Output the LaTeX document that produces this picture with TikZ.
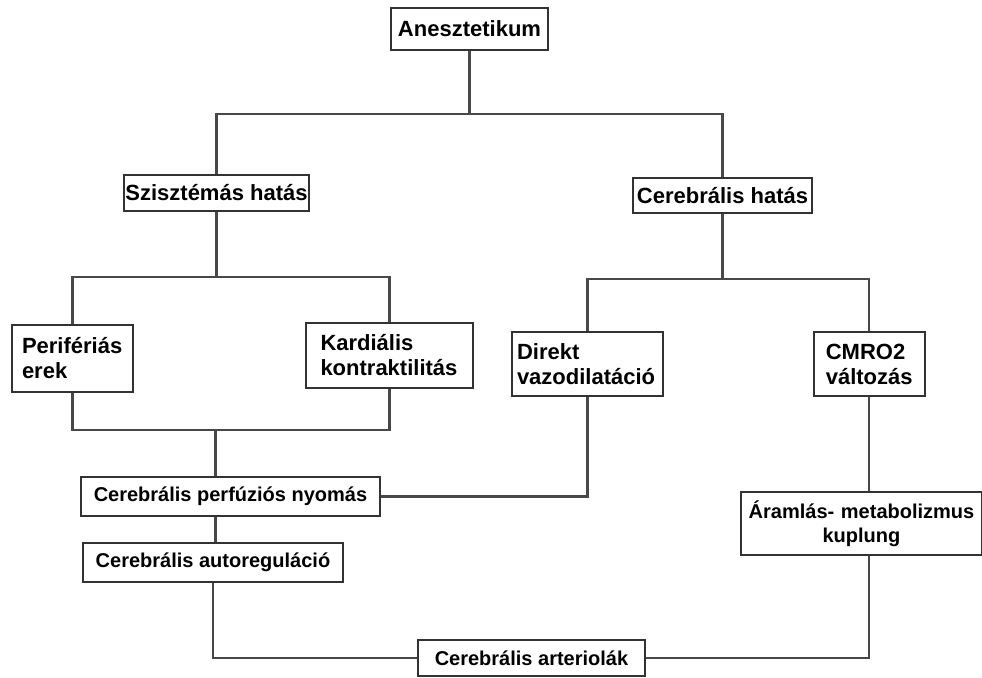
\documentclass[tikz,border=0pt]{standalone}
\usepackage{fontspec}
\setmainfont{Liberation Sans}
\usetikzlibrary{positioning}
\definecolor{lineInk}{RGB}{72,72,72}
\definecolor{boxInk}{RGB}{50,50,50}
\tikzset{
  box/.style={draw=boxInk, line width=1.8pt, fill=white, align=center, inner sep=0pt, font=\fontsize{22}{25}\selectfont\bfseries},
  upbox/.style={box, minimum height=36pt},
  twobox/.style={box, align=left, minimum height=65pt},
  lowbox/.style={box, minimum height=39pt, font=\fontsize{20}{23}\selectfont\bfseries},
  link/.style={draw=lineInk, line width=2.2pt}
}

\begin{document}
\begin{tikzpicture}[x=1pt, y=-1pt]
    \useasboundingbox (0,0) rectangle (982,677);
    \node[upbox, minimum width=157pt, minimum height=42pt] (anes) at (469.5,29) {Anesztetikum};
    \node[upbox, minimum width=185pt] (sys) at (216.5,193) {Szisztémás hatás};
    \node[upbox, minimum width=179pt, minimum height=35pt] (cer) at (722.5,195.5) {Cerebrális hatás};
    \node[twobox, text width=101pt, inner xsep=10pt, minimum height=67pt] (per) at (72.5,358.5) {Perifériás\\erek};
    \node[twobox, text width=138pt, inner xsep=14.5pt] (kard) at (389.5,355.5) {Kardiális\\kontraktilitás};
    \node[twobox, text width=141pt, inner xsep=5pt, minimum height=64pt] (dir) at (587.5,364) {Direkt\\vazodilatáció};
    \node[twobox, text width=87pt, inner xsep=12pt, minimum height=64pt, right=149pt of dir] (cmro) {CMRO2\\változás};
    \node[lowbox, minimum width=299pt] (cpp) at (230.5,496.5) {Cerebrális perfúziós nyomás};
    \node[lowbox, minimum width=260pt, below=25pt of cpp, xshift=-17.5pt] (auto) {Cerebrális autoreguláció};
    \node[lowbox, text width=227pt, inner xsep=7pt, minimum height=63pt, font=\fontsize{20}{24}\selectfont\bfseries] (flow) at (861.5,523.5) {Áramlás- metabolizmus\\kuplung};
    \node[lowbox, minimum width=227pt, minimum height=36pt] (art) at (531.5,658) {Cerebrális arteriolák};
    % upper tree
    \draw[link] (anes.south) -- ++(0,63) coordinate (j1);
    \draw[link] (sys.north) |- (j1) -| (cer.north);
    \draw[link] (sys.south) -- ++(0,65) coordinate (j2);
    \draw[link] (per.north) |- (j2) -| (kard.north);
    \draw[link] (cer.south) -- ++(0,65) coordinate (j4);
    \draw[link] (dir.north) |- (j4) -| (cmro.north);
    % systemic side joins
    \coordinate (j3) at (215.5,430);
    \draw[link] (per.south) |- (j3) -| (kard.south);
    \draw[link] (j3) -- (j3 |- cpp.north);
    \draw[link] (dir.south) |- (cpp.east);
    \draw[link] (j3 |- cpp.south) -- (j3 |- auto.north);
    \draw[link] (auto.south) |- (art.west);
    % metabolic side
    \draw[link] (cmro.south) -- (cmro.south |- flow.north);
    \draw[link] (cmro.south |- flow.south) |- (art.east);
\end{tikzpicture}
\end{document}
